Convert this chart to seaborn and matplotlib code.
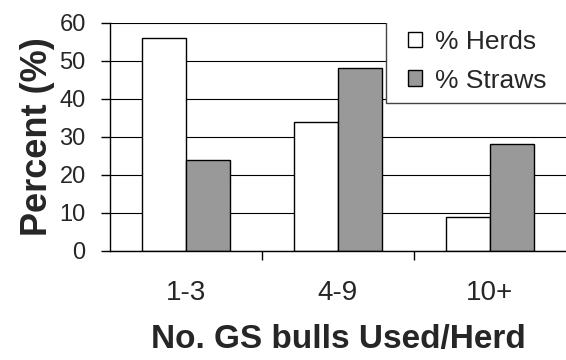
import numpy as np
import pandas as pd
import matplotlib.pyplot as plt
from matplotlib.patches import Rectangle
import seaborn as sns

# data
groups = ["1-3", "4-9", "10+"]
herds = [56, 34, 9]
straws = [24, 48, 28]

df = pd.DataFrame({
    "group": groups * 2,
    "series": ["% Herds"] * 3 + ["% Straws"] * 3,
    "pct": herds + straws,
})

sns.set_style("white")
plt.rcParams["font.family"] = ["Liberation Sans", "DejaVu Sans"]

fig = plt.figure(figsize=(5.66, 3.6), dpi=100)
ax = fig.add_axes([0.1943, 0.3028, 0.8057, 0.634])

sns.barplot(data=df, x="group", y="pct", hue="series",
            palette=["white", "#999999"], edgecolor="black", linewidth=1,
            width=0.585, ax=ax)

ax.set_ylim(0, 60)
ax.set_yticks(range(0, 61, 10))
ax.set_xlim(-0.5, 2.5)
ax.yaxis.grid(True, color="black", linewidth=0.8)
ax.set_axisbelow(True)
for s in ["top", "right"]:
    ax.spines[s].set_visible(False)
for s in ["left", "bottom"]:
    ax.spines[s].set_color("black")
    ax.spines[s].set_linewidth(1)

ax.tick_params(axis="y", left=True, length=6.5, width=1, color="black", labelsize=17, pad=11)
ax.tick_params(axis="x", which="major", length=0, labelsize=20, pad=21)
ax.set_xticks([0.5, 1.5], minor=True)
ax.tick_params(axis="x", which="minor", bottom=True, length=6.5, width=1, color="black")

ax.set_ylabel("Percent (%)", fontsize=26, fontweight="bold", labelpad=3)
ax.set_xlabel("No. GS bulls Used/Herd", fontsize=24, fontweight="bold", labelpad=13)

# legend box (white, covers gridlines)
box = Rectangle((0.605, 0.65), 0.40, 0.36, transform=ax.transAxes,
                facecolor="white", edgecolor="#444444", linewidth=1, zorder=3)
ax.add_patch(box)

leg = ax.legend(loc="upper left", bbox_to_anchor=(0.6535, 0.968), borderaxespad=0,
                fontsize=19, frameon=False, handlelength=0.53,
                handleheight=0.53, handletextpad=0.5, borderpad=0, labelspacing=0.55)
leg.set_zorder(4)
for h in leg.legend_handles:
    h.set_edgecolor("black")
    h.set_linewidth(1)

fig.savefig("out.png", dpi=100)
